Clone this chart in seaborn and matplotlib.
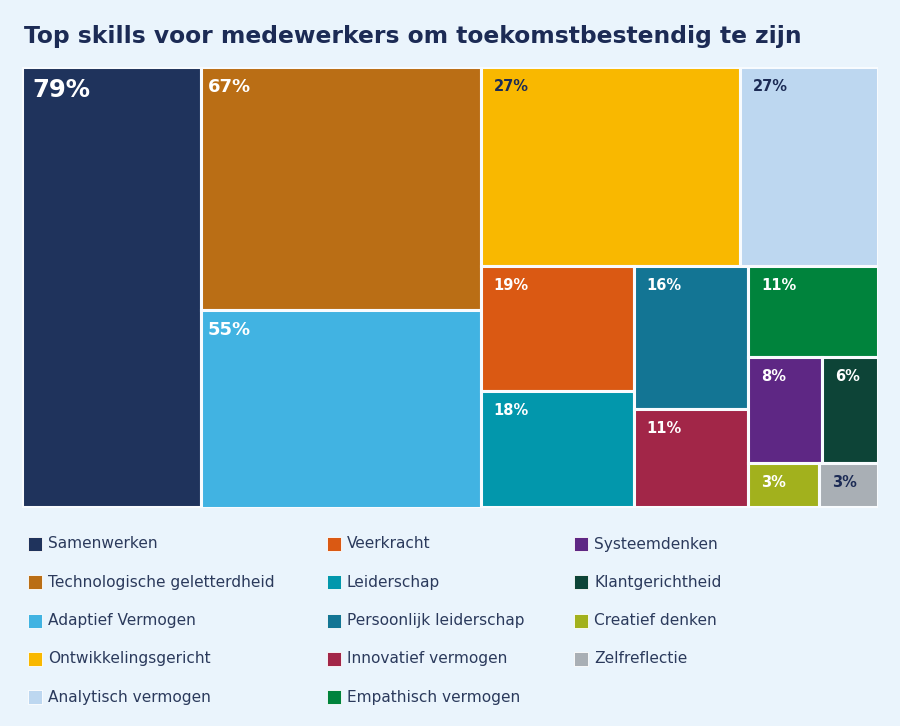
import matplotlib
matplotlib.use("Agg")
import matplotlib.pyplot as plt
from matplotlib.patches import Rectangle
import seaborn as sns

# ---------------- data ----------------
skills = ["Samenwerken", "Technologische geletterdheid", "Adaptief Vermogen",
          "Ontwikkelingsgericht", "Analytisch vermogen", "Veerkracht", "Leiderschap",
          "Persoonlijk leiderschap", "Innovatief vermogen", "Empathisch vermogen",
          "Systeemdenken", "Klantgerichtheid", "Creatief denken", "Zelfreflectie"]
percentages = [79, 67, 55, 27, 27, 19, 18, 16, 11, 11, 8, 6, 3, 3]
# tile areas as drawn in the reference
tile_sizes = [79, 67.9, 55.3, 51.7, 27.5, 19.1, 17.8, 16.3, 11.3, 11.7, 7.8, 5.9, 3.2, 2.6]
colors = ["#1F335C", "#BA6E15", "#41B3E2", "#F9B800", "#BDD7F0", "#DA5913", "#0297AC",
          "#137594", "#A22648", "#00833C", "#5E2784", "#0D4437", "#A2B11D", "#A9AFB5"]
title = "Top skills voor medewerkers om toekomstbestendig te zijn"

# layout structure: (number of tiles in strip, orientation)
strips = [(1, "col"), (2, "col"), (2, "row"), (2, "col"), (2, "col"),
          (1, "row"), (2, "row"), (2, "row")]

BG = "#EAF4FC"
NAVY = "#1C2B55"
dark_text = {3, 4, 13}

sns.set_theme(style="white")
plt.rcParams["font.family"] = ["DejaVu Sans"]
palette = sns.color_palette(colors)


def strip_layout(sizes, strips, x, y, w, h):
    rects = []
    i = 0
    remaining = float(sum(sizes))
    for n, orient in strips:
        group = sizes[i:i + n]
        gsum = float(sum(group))
        if orient == "col":
            cw = w * gsum / remaining
            yy = y
            for s in group:
                hh = h * s / gsum
                rects.append((x, yy, cw, hh))
                yy += hh
            x += cw
            w -= cw
        else:
            rh = h * gsum / remaining
            xx = x
            for s in group:
                ww = w * s / gsum
                rects.append((xx, y, ww, rh))
                xx += ww
            y += rh
            h -= rh
        remaining -= gsum
        i += n
    return rects


W_PX, H_PX = 900, 726
fig = plt.figure(figsize=(9, 7.26), dpi=100, facecolor=BG)

# treemap axes (pixel units)
x0, x1, y0, y1 = 21.8, 877.5, 66.8, 507.5
ax = fig.add_axes([x0 / W_PX, 1 - y1 / H_PX, (x1 - x0) / W_PX, (y1 - y0) / H_PX])
AW, AH = x1 - x0, y1 - y0
ax.set_xlim(0, AW)
ax.set_ylim(AH, 0)
ax.axis("off")

rects = strip_layout(tile_sizes, strips, 0, 0, AW, AH)
for k, (rx, ry, rw, rh) in enumerate(rects):
    ax.add_patch(Rectangle((rx, ry), rw, rh, facecolor=palette[k],
                           edgecolor="#F8FBFE", linewidth=2.2))
    p = percentages[k]
    if p >= 70:
        fs, dx, dy = 17.5, 11, 23.5
    elif p >= 50:
        fs, dx, dy = 13, 6.5, 20.5
    else:
        fs, dx, dy = 10.5, 13, 19.5
    ax.text(rx + dx, ry + dy, f"{p}%", fontsize=fs, fontweight="bold",
            color=NAVY if k in dark_text else "white", ha="left", va="center")

# title
fig.text(24 / W_PX, 1 - 36 / H_PX, title, fontsize=16.8, fontweight="bold",
         color=NAVY, ha="left", va="center")

# legend (3 columns, 5 rows)
lax = fig.add_axes([0, 0, 1, 1])
lax.set_xlim(0, W_PX)
lax.set_ylim(H_PX, 0)
lax.axis("off")
col_x = [28, 327, 574]
for k, name in enumerate(skills):
    c, r = k // 5, k % 5
    mx = col_x[c]
    my = 544 + r * 38.3
    lax.add_patch(Rectangle((mx, my - 7), 14, 14, facecolor=palette[k],
                            edgecolor="white", linewidth=0.6))
    lax.text(mx + 20, my, name, fontsize=11.1, color="#2B3A5C",
             ha="left", va="center")

fig.savefig("out.png", dpi=100, facecolor=BG)
